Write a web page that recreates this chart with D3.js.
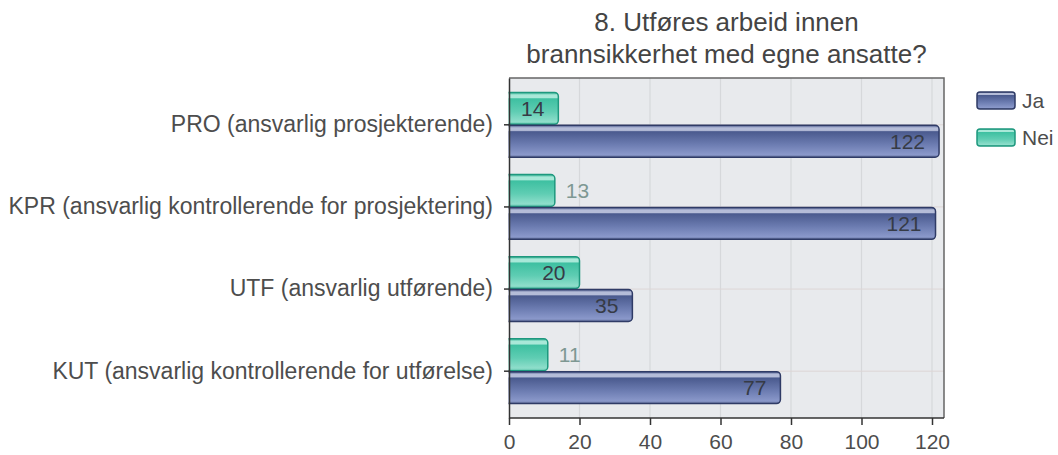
<!DOCTYPE html>
<html>
<head>
<meta charset="utf-8">
<script src="https://cdn.jsdelivr.net/npm/d3@7"></script>
<style>
  body { margin: 0; background: #fff; }
  svg { display: block; font-family: "Liberation Sans", Arial, sans-serif; }
</style>
</head>
<body>
<svg id="chart" width="1058" height="455"></svg>
<script>
const categories = [
    "PRO (ansvarlig prosjekterende)",
    "KPR (ansvarlig kontrollerende for prosjektering)",
    "UTF (ansvarlig utførende)",
    "KUT (ansvarlig kontrollerende for utførelse)"
];
const seriesNames = ["Nei", "Ja"];
const neiValues = [14, 13, 20, 11];
const jaValues = [122, 121, 35, 77];
const xTicks = [0, 20, 40, 60, 80, 100, 120];
const titleLines = ["8. Utføres arbeid innen", "brannsikkerhet med egne ansatte?"];
const legendNames = ["Ja", "Nei"];

const svg = d3.select("#chart");
const plot = { left: 509, right: 944, top: 78, bottom: 418 };

const x = d3.scaleLinear().domain([0, 120]).range([plot.left, 932]);
const y = d3.scaleBand().domain(categories)
    .range([plot.top, plot.bottom]).paddingInner(0.2).paddingOuter(0.17);
const ySub = d3.scaleBand().domain(seriesNames).range([0, y.bandwidth()]);

// gradients
const defs = svg.append("defs");
function makeGrad(id, stops) {
    const g = defs.append("linearGradient").attr("id", id)
        .attr("x1", 0).attr("y1", 0).attr("x2", 0).attr("y2", 1);
    stops.forEach(s => g.append("stop").attr("offset", s[0]).attr("stop-color", s[1]));
}
makeGrad("gJa", [[0, "#46558a"], [0.08, "#b4bcd8"], [0.16, "#b4bcd8"], [0.2, "#4a5a8e"], [0.6, "#6c7cb1"], [0.92, "#8a98ca"], [1, "#66749f"]]);
makeGrad("gNei", [[0, "#34b394"], [0.08, "#a8e8d8"], [0.16, "#a8e8d8"], [0.2, "#3ec0a1"], [0.6, "#5fcdb3"], [0.92, "#8fdecb"], [1, "#5cc3ab"]]);
const fills = { Ja: "url(#gJa)", Nei: "url(#gNei)" };
const strokes = { Ja: "#2f3b66", Nei: "#1e987e" };

// plot background
svg.append("rect")
    .attr("x", plot.left).attr("y", plot.top)
    .attr("width", plot.right - plot.left).attr("height", plot.bottom - plot.top)
    .attr("fill", "#e8eaed");

// vertical grid
svg.append("g").selectAll("line")
    .data(xTicks.slice(1))
    .join("line")
    .attr("x1", d => x(d)).attr("x2", d => x(d))
    .attr("y1", plot.top).attr("y2", plot.bottom)
    .attr("stroke", "#d6d8db").attr("stroke-width", 1.2);

// horizontal grid at category centres
svg.append("g").selectAll("line")
    .data(categories)
    .join("line")
    .attr("x1", plot.left).attr("x2", plot.right)
    .attr("y1", d => y(d) + y.bandwidth() / 2).attr("y2", d => y(d) + y.bandwidth() / 2)
    .attr("stroke", "#ddd6d6").attr("stroke-width", 1);

// bars
const rows = categories.map((c, i) => ({ cat: c, Nei: neiValues[i], Ja: jaValues[i] }));
const groups = svg.append("g").selectAll("g")
    .data(rows)
    .join("g")
    .attr("transform", d => `translate(0,${y(d.cat)})`);

groups.selectAll("rect")
    .data(d => seriesNames.map(s => ({ key: s, value: d[s] })))
    .join("rect")
    .attr("x", x(0) - 5)
    .attr("y", d => ySub(d.key) + 0.5)
    .attr("width", d => x(d.value) - x(0) + 5)
    .attr("height", ySub.bandwidth() - 1)
    .attr("rx", 4)
    .attr("fill", d => fills[d.key])
    .attr("stroke", d => strokes[d.key])
    .attr("stroke-width", 1.5);

groups.selectAll("text")
    .data(d => seriesNames.map(s => ({ key: s, value: d[s] })))
    .join("text")
    .each(function(d) {
        const w = x(d.value) - x(0);
        const inside = w >= 48;
        d3.select(this)
            .attr("x", inside ? x(d.value) - 14 : x(d.value) + 11)
            .attr("text-anchor", inside ? "end" : "start")
            .attr("fill", inside ? "#363b46" : "#7e9893");
    })
    .attr("y", d => ySub(d.key) + ySub.bandwidth() / 2)
    .attr("dy", "0.36em")
    .attr("font-size", 21)
    .text(d => d.value);

// left cover so the bars start at the axis
svg.append("rect")
    .attr("x", plot.left - 6).attr("y", plot.top)
    .attr("width", 5.5).attr("height", plot.bottom - plot.top)
    .attr("fill", "#fff");

// border top/right
svg.append("path")
    .attr("d", `M${plot.left},${plot.top}H${plot.right}V${plot.bottom}`)
    .attr("fill", "none").attr("stroke", "#666").attr("stroke-width", 1.5);

// x axis
const xAxis = svg.append("g")
    .attr("transform", `translate(0,${plot.bottom})`)
    .call(d3.axisBottom(x).tickValues(xTicks).tickSize(7).tickSizeOuter(0).tickPadding(9));
xAxis.select(".domain").remove();
xAxis.append("line").attr("x1", plot.left).attr("x2", plot.right)
    .attr("stroke", "#333").attr("stroke-width", 1.5);
xAxis.selectAll(".tick line").attr("stroke", "#333").attr("stroke-width", 1.5);
xAxis.selectAll(".tick text")
    .attr("font-size", 21).attr("fill", "#4d4d4d")
    .attr("font-family", "'Liberation Sans', Arial, sans-serif");

// y axis
const yAxis = svg.append("g")
    .attr("transform", `translate(${plot.left},0)`)
    .call(d3.axisLeft(y).tickSize(5).tickSizeOuter(0).tickPadding(11));
yAxis.select(".domain").attr("stroke", "#333").attr("stroke-width", 1.5);
yAxis.selectAll(".tick line").attr("stroke", "#333").attr("stroke-width", 1.5);
yAxis.selectAll(".tick text")
    .attr("font-size", 23).attr("fill", "#4d4d4d")
    .attr("font-family", "'Liberation Sans', Arial, sans-serif");

// title
svg.append("text")
    .attr("x", (plot.left + plot.right) / 2)
    .attr("text-anchor", "middle")
    .attr("font-size", 26).attr("fill", "#444")
    .selectAll("tspan")
    .data(titleLines)
    .join("tspan")
    .attr("x", (plot.left + plot.right) / 2)
    .attr("y", (d, i) => 31 + i * 32)
    .text(d => d);

// legend
const legend = svg.append("g").attr("transform", "translate(977,92)");
const li = legend.selectAll("g")
    .data(legendNames)
    .join("g")
    .attr("transform", (d, i) => `translate(0,${i * 37})`);
li.append("rect")
    .attr("width", 38).attr("height", 17).attr("rx", 3)
    .attr("fill", d => fills[d]).attr("stroke", d => strokes[d]).attr("stroke-width", 1.5);
li.append("text")
    .attr("x", 45).attr("y", 8.5).attr("dy", "0.36em")
    .attr("font-size", 21).attr("fill", "#4d4d4d")
    .text(d => d);
</script>
</body>
</html>
